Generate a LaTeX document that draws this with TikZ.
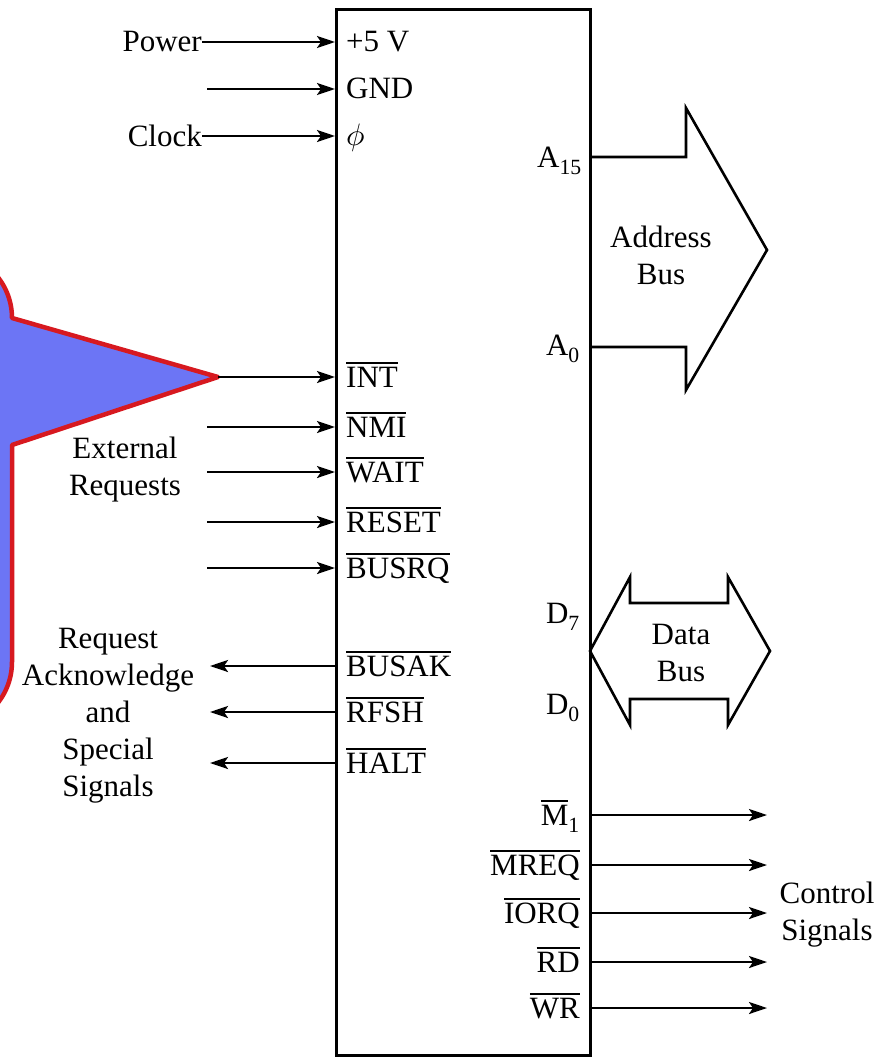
\documentclass[tikz,border=0pt]{standalone}
\usepackage{fontspec}
\usepackage{unicode-math}
\setmainfont{Liberation Serif}
\usetikzlibrary{arrows.meta}
% active-low signal name: a bar drawn over the letters
\newcommand\negsig[1]{\leavevmode\vbox{\hrule height 1.7pt\kern 2.6pt\hbox{#1}}}
\definecolor{calloutfill}{RGB}{108,117,245}
\definecolor{calloutedge}{RGB}{215,25,32}
\begin{document}
\begin{tikzpicture}[x=1pt,y=-1pt,
  every node/.style={font=\fontsize{31}{37}\selectfont, inner sep=0pt},
  sig/.style={line width=2.4pt, -{Stealth[length=18pt,width=12pt,inset=4pt]}},
  pinleft/.style={anchor=base west},
  pinright/.style={anchor=base east},
  grouplabel/.style={align=center},
  chipbox/.style={draw, line width=3pt},
  busshape/.style={draw, line width=2.6pt, line join=miter},
  callout/.style={fill=calloutfill, draw=calloutedge, line width=4.5pt, line join=round},
]
\useasboundingbox (0,0) rectangle (889,1057);

% CPU package outline
\draw[chipbox] (336,10) rectangle (590,1055);

% Power and clock inputs
\node[anchor=east] (power) at (202,42) {Power};
\node[anchor=east] (clock) at (202,136) {Clock};
\coordinate (gnd-in) at (207,89);
\coordinate (pin-vcc) at (335,42);
\coordinate (pin-gnd) at (335,89);
\coordinate (pin-clk) at (335,136);
\node[pinleft] (lbl-vcc) at (346,52) {+5 V};
\node[pinleft] (lbl-gnd) at (346,99) {GND};
\node[pinleft] (lbl-clk) at (346,145) {$\phi$};
\draw[sig] (power.east) -- (pin-vcc);
\draw[sig] (gnd-in) -- (pin-gnd);
\draw[sig] (clock.east) -- (pin-clk);

% External request inputs
\foreach \n/\y/\t in {nmi/427/NMI, wait/472/WAIT, reset/522/RESET, busrq/568/BUSRQ}{
  \coordinate (in-\n) at (207,\y);
  \coordinate (pin-\n) at (335,\y);
  \node[pinleft] (lbl-\n) at (346,\y+10) {\negsig{\t}};
  \draw[sig] (in-\n) -- (pin-\n);
}
\coordinate (pin-int) at (335,377);
\node[pinleft] (lbl-int) at (346,387) {\negsig{INT}};
\node[grouplabel] (extreq) at (125,470) {External\\Requests};

% Acknowledge and special outputs
\foreach \n/\y/\t in {busak/666/BUSAK, rfsh/712/RFSH, halt/763/HALT}{
  \coordinate (out-\n) at (210,\y);
  \coordinate (pin-\n) at (336,\y);
  \node[pinleft] (lbl-\n) at (346,\y+10) {\negsig{\t}};
  \draw[sig] (pin-\n) -- (out-\n);
}
\node[grouplabel] (ackgrp) at (108,716) {Request\\Acknowledge\\and\\Special\\Signals};

% Address bus
\node[pinright] (lbl-a15) at (582,167) {A\textsubscript{15}};
\node[pinright] (lbl-a0) at (580,355) {A\textsubscript{0}};
\draw[busshape] (590,157) -- (686,157) -- (686,108) -- (767,250)
  -- (686,390) -- (686,347) -- (590,347);
\node[grouplabel] (addrbus) at (661,255) {Address\\Bus};

% Data bus
\node[pinright] (lbl-d7) at (580,623) {D\textsubscript{7}};
\node[pinright] (lbl-d0) at (580,714) {D\textsubscript{0}};
\draw[busshape] (590,651) -- (630,577) -- (630,603) -- (728,603) -- (728,577)
  -- (770,651) -- (728,725) -- (728,699) -- (630,699) -- (630,725) -- cycle;
\node[grouplabel] (databus) at (681,653) {Data\\Bus};

% Control outputs
\foreach \n/\y/\t in {m1/815/{\negsig{M}\textsubscript{1}}, mreq/865/\negsig{MREQ},
    iorq/913/\negsig{IORQ}, rd/962/\negsig{RD}, wr/1008/\negsig{WR}}{
  \coordinate (pin-\n) at (590,\y);
  \coordinate (out-\n) at (767,\y);
  \node[pinright] (lbl-\n) at (580,\y+10) {\t};
  \draw[sig] (pin-\n) -- (out-\n);
}
\node[grouplabel] (ctrl) at (827,915) {Control\\Signals};

% Highlight callout pointing at the interrupt line
\begin{scope}
  \clip (0,0) rectangle (889,1057);
  \coordinate (tip) at (218,377);
  \draw[callout] (-120,252) -- (-54,252) .. controls (-17.5,252) and (12,281.5) .. (12,318)
    -- (tip) -- (12,445) -- (12,662) .. controls (12,698.5) and (-17.5,728) .. (-54,728)
    -- (-120,728) -- cycle;
\end{scope}
\draw[sig] (tip) -- (pin-int);
\end{tikzpicture}
\end{document}
